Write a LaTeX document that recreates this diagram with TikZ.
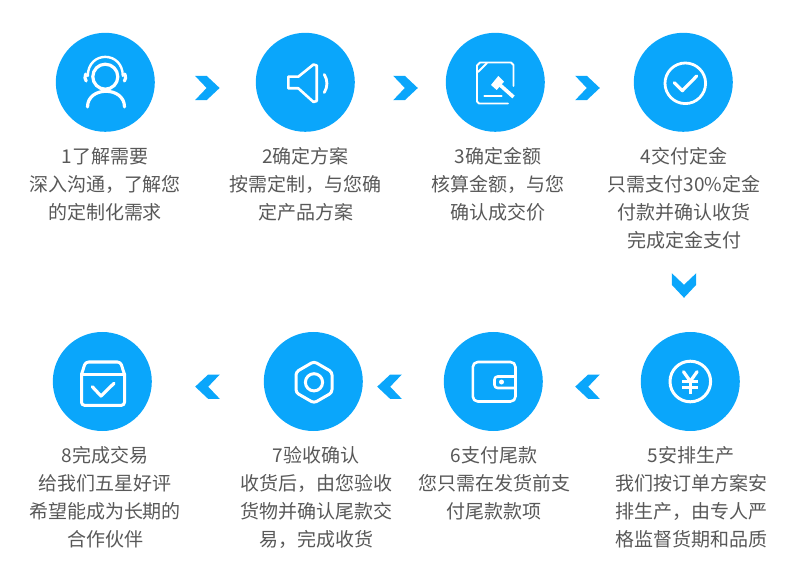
\documentclass[tikz,border=0pt]{standalone}
\usepackage{fontspec}
\setmainfont{Noto Sans CJK SC}
\definecolor{brand}{HTML}{0AA6FB}
\definecolor{txt}{HTML}{585858}
\tikzset{
  disc/.style={circle,fill=brand,draw=none,minimum size=99pt,inner sep=0pt},
  ico/.style={draw=white,line width=3pt,line cap=round,line join=round},
  lab/.style={anchor=north,align=center,text=txt,font=\fontsize{19pt}{27.8pt}\selectfont,inner sep=0pt},
  chev/.style={fill=brand,draw=none}
}
\newcommand{\chevron}[3]{\fill[chev,shift={(#1,#2)},rotate=#3] (-12.3,-12.2) -- (-0.7,-12.2) -- (12.3,0) -- (-0.7,12.2) -- (-12.3,12.2) -- (-0.7,0) -- cycle;}
\begin{document}
\begin{tikzpicture}[x=1pt,y=-1pt]
\useasboundingbox (0,0) rectangle (790,585);
% discs
\node[disc] (c1) at (105.3,82.3) {};
\node[disc] (c2) at (305.3,82.3) {};
\node[disc] (c3) at (495.3,82.3) {};
\node[disc] (c4) at (683.3,82.3) {};
\node[disc] (c5) at (690.3,381.5) {};
\node[disc] (c6) at (493.3,381.5) {};
\node[disc] (c7) at (313.3,381.5) {};
\node[disc] (c8) at (102.3,381.5) {};
% chevrons
\chevron{207.3}{88}{0}
\chevron{405.5}{88}{0}
\chevron{587.5}{88}{0}
\chevron{684}{285.5}{-90}
\chevron{587.5}{386.7}{180}
\chevron{389.5}{386.7}{180}
\chevron{207.5}{386.7}{180}
% icon 1: person with headset
\draw[ico,line width=3.2pt] (105.3,76.7) circle[radius=12.5];
\draw[ico,line width=2.4pt] (87.8,76) .. controls (87.8,50.5) and (122.8,50.5) .. (122.8,76);
\draw[ico,line width=3.2pt] (85.7,74) .. controls (84.5,77) and (84.8,79) .. (86.2,81);
\draw[ico,line width=3.2pt] (124.9,74) .. controls (126.1,77) and (125.8,79) .. (124.4,81);
\draw[ico,line width=3.2pt] (87.5,107) .. controls (87.5,86) and (124.5,86) .. (124.5,107);
% icon 2: speaker
\draw[ico,line width=2.6pt] (288.3,76.7) -- (298.3,76.7) -- (313.5,64.5) -- (316.7,65.5) -- (316.7,101) -- (313.5,102) -- (298.3,88.3) -- (288.3,88.3) -- cycle;
\draw[ico,line width=2.8pt] (324.3,74.5) .. controls (327.8,80) and (327.8,87) .. (324.3,92.5);
% icon 3: document with hammer
\draw[ico,line width=1.8pt] (513.5,86) -- (513.5,65) -- (511,62.5) -- (480,62.5) -- (477,65.5) -- (477,101.5) -- (479,103.5) -- (508,103.5);
\draw[ico,line width=1.8pt] (478,72) -- (487,63);
\draw[ico,line width=1.8pt] (484.3,96) -- (501.7,96);
\fill[white] (498.3,76) -- (504,81.7) -- (496.7,90) -- (491,85) -- cycle;
\draw[white,line width=3.6pt] (499.5,84.5) -- (513.5,97);
% icon 4: check circle
\draw[ico,line width=2.8pt] (685.3,83.3) circle[radius=20.3];
\draw[ico,line width=3.2pt] (674.3,82.7) -- (682.3,90.7) -- (696.7,76);
% icon 5: yen circle
\draw[ico] (690.3,381.5) circle[radius=20.3];
\draw[ico,line width=3.2pt] (683.5,371.7) -- (690.3,381.3) -- (697.1,371.7);
\draw[ico,line cap=butt] (682.3,381.3) -- (698.3,381.3);
\draw[ico,line cap=butt] (682.3,387.5) -- (698.3,387.5);
\draw[ico,line cap=butt,line width=3.2pt] (690.3,381.3) -- (690.3,394);
% icon 6: wallet
\draw[ico,line width=2.6pt,rounded corners=5pt] (472.8,362) rectangle (515.5,401.5);
\draw[ico,line width=2.6pt,rounded corners=3pt] (515.5,376.5) -- (494.5,376.5) -- (494.5,388) -- (515.5,388);
\fill[white] (501.5,382) circle[radius=2.5];
% icon 7: hexagon nut
\draw[ico,rounded corners=3pt] (314,361.5) -- (332,372) -- (332,392.6) -- (314,403) -- (296,392.6) -- (296,372) -- cycle;
\draw[ico] (314,382.3) circle[radius=8.6];
% icon 8: box
\draw[ico,rounded corners=3pt] (81.5,374) -- (81.5,405.3) -- (124.5,405.3) -- (124.5,374);
\draw[ico,rounded corners=3pt] (81.5,374.5) -- (85.5,362) -- (120.5,362) -- (124.5,374.5);
\draw[ico] (81.5,374) -- (124.5,374);
\draw[ico,line width=3.2pt] (92.3,386.7) -- (101,396) -- (114,383.3);
% texts
\node[lab] (t1) at (105,147.3) {1了解需要\\深入沟通，了解您\\的定制化需求};
\node[lab] (t2) at (305.5,147.3) {2确定方案\\按需定制，与您确\\定产品方案};
\node[lab] (t3) at (498,147.3) {3确定金额\\核算金额，与您\\确认成交价};
\node[lab] (t4) at (684,147.3) {4交付定金\\只需支付30\%定金\\付款并确认收货\\完成定金支付};
\node[lab] (t5) at (691,446.5) {5安排生产\\我们按订单方案安\\排生产，由专人严\\格监督货期和品质};
\node[lab] (t6) at (494,446.5) {6支付尾款\\您只需在发货前支\\付尾款款项};
\node[lab] (t7) at (316,446.5) {7验收确认\\收货后，由您验收\\货物并确认尾款交\\易，完成收货};
\node[lab] (t8) at (105,446.5) {8完成交易\\给我们五星好评\\希望能成为长期的\\合作伙伴};
\end{tikzpicture}
\end{document}
